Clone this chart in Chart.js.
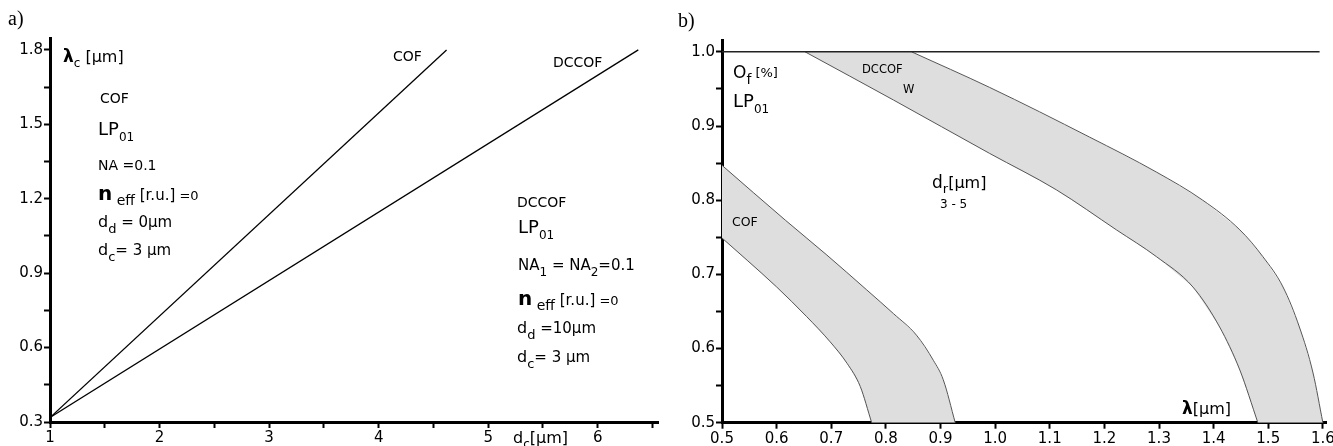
<!DOCTYPE html>
<html>
<head>
<meta charset="utf-8">
<script src="https://cdn.jsdelivr.net/npm/chart.js@4/dist/chart.umd.min.js"></script>
<style>
  html, body { margin: 0; padding: 0; background: #fff; overflow: hidden; width: 1333px; height: 446px; }
  #chartA { position: absolute; left: 0; top: 0; }
  #chartB { position: absolute; left: 665px; top: 0; }
</style>
</head>
<body>
<canvas id="chartA" width="665" height="446"></canvas>
<canvas id="chartB" width="700" height="446"></canvas>
<script>
// a) cut-off wavelength vs core diameter
const dcCof = [1, 4.62];
const lamCof = [0.318, 1.8];
const dcDccof = [1, 6.37];
const lamDccof = [0.318, 1.8];
const xTicksA = [1, 1.5, 2, 2.5, 3, 3.5, 4, 4.5, 5, 5.5, 6, 6.5];
const yTicksA = [0.3, 0.45, 0.6, 0.75, 0.9, 1.05, 1.2, 1.35, 1.5, 1.65, 1.8];

// b) overlap factor vs wavelength, bands for d_r = 3..5 um
const cofUpX = [0.5, 0.616, 0.692, 0.765, 0.814, 0.856, 0.887, 0.905, 0.927];
const cofUpY = [0.847, 0.773, 0.726, 0.679, 0.647, 0.618, 0.584, 0.558, 0.5];
const cofLoX = [0.5, 0.546, 0.6, 0.655, 0.698, 0.729, 0.753, 0.774];
const cofLoY = [0.749, 0.719, 0.683, 0.643, 0.609, 0.580, 0.549, 0.5];
const dcUpX = [0.847, 0.990, 1.173, 1.295, 1.380, 1.448, 1.490, 1.527, 1.557, 1.582, 1.600];
const dcUpY = [1.0, 0.952, 0.885, 0.838, 0.800, 0.760, 0.724, 0.683, 0.629, 0.567, 0.5];
const dcLoX = [0.652, 0.814, 0.990, 1.112, 1.222, 1.295, 1.362, 1.411, 1.448, 1.481];
const dcLoY = [1.0, 0.935, 0.863, 0.814, 0.760, 0.724, 0.683, 0.629, 0.571, 0.5];
const limitX = [0.5, 1.594];
const limitY = [1.0, 1.0];
const xTicksB = [0.5, 0.6, 0.7, 0.8, 0.9, 1.0, 1.1, 1.2, 1.3, 1.4, 1.5, 1.6];
const yTicksB = [0.5, 0.55, 0.6, 0.65, 0.7, 0.75, 0.8, 0.85, 0.9, 0.95, 1.0];

const FONT = '"DejaVu Sans"';
const pts = (xs, ys) => xs.map((x, i) => ({ x, y: ys[i] }));
const band = (upX, upY, loX, loY) => pts(upX, upY).concat(pts(loX, loY).reverse());

function rich(ctx, x, y, parts) {
  let cx = x;
  parts.forEach(([t, size, dy = 0, bold = false, fam = FONT]) => {
    ctx.font = `${bold ? 'bold ' : ''}${size}px ${fam}`;
    ctx.fillText(t, cx, y + dy);
    cx += ctx.measureText(t).width;
  });
}

const notes = {
  id: 'notes',
  afterDraw(chart, args, opts) {
    const ctx = chart.ctx;
    ctx.save();
    ctx.fillStyle = '#000';
    ctx.textBaseline = 'alphabetic';
    ctx.textAlign = 'left';
    opts.items.forEach(([x, y, parts]) => rich(ctx, x - opts.offset, y, parts));
    ctx.restore();
  }
};

const serif = '"Liberation Serif"';
const notesA = [
  [8, 25, [['a)', 20, 0, false, serif]]],
  [63, 62, [['λ', 17, 0, true], ['c', 12, 5], [' [µm]', 16]]],
  [100, 103, [['COF', 14]]],
  [98, 135, [['LP', 18], ['01', 12, 6]]],
  [98, 170, [['NA =0.1', 14]]],
  [98, 200, [['n', 20, 0, true], [' eff', 14, 5], [' [r.u.]', 15], [' =0', 13]]],
  [98, 227, [['d', 16], ['d', 13, 6], [' = 0µm', 15]]],
  [98, 255, [['d', 16], ['c', 13, 6], ['= 3 µm', 15]]],
  [393, 61, [['COF', 14]]],
  [553, 67, [['DCCOF', 14]]],
  [517, 207, [['DCCOF', 14]]],
  [518, 233, [['LP', 18], ['01', 12, 6]]],
  [518, 270, [['NA', 15], ['1', 12, 6], [' = NA', 15], ['2', 12, 6], ['=0.1', 15]]],
  [518, 305, [['n', 20, 0, true], [' eff', 14, 5], [' [r.u.]', 15], [' =0', 13]]],
  [517, 333, [['d', 16], ['d', 13, 6], [' =10µm', 15]]],
  [517, 362, [['d', 16], ['c', 13, 6], ['= 3 µm', 15]]],
  [513, 443, [['d', 16], ['c', 12, 5], ['[µm]', 16]]]
];
const notesB = [
  [678, 27, [['b)', 20, 0, false, serif]]],
  [733, 78, [['O', 17], ['f', 14, 6], [' [%]', 13, -1]]],
  [733, 107, [['LP', 18], ['01', 12, 6]]],
  [862, 73, [['DCCOF', 11.5]]],
  [903, 93, [['W', 11.5]]],
  [732, 226, [['COF', 12.5]]],
  [932, 188, [['d', 17], ['r', 13, 5], ['[µm]', 16]]],
  [940, 208, [['3 - 5', 12]]],
  [1182, 414, [['λ', 17, 0, true], ['[µm]', 16]]]
];

function axis(min, max, ticks, label, fit) {
  return {
    type: 'linear', min, max, z: 1,
    afterBuildTicks: s => { s.ticks = ticks.map(v => ({ value: v })); },
    afterFit: fit,
    ticks: { callback: label, color: '#000', font: { family: 'DejaVu Sans', size: 15 }, padding: 1, maxRotation: 0, autoSkip: false },
    grid: { drawOnChartArea: false, drawTicks: true, tickLength: 6, tickWidth: 2, color: '#000' },
    border: { display: true, color: '#000', width: 3 }
  };
}

const edge = (xs, ys) => ({
  data: pts(xs, ys), borderColor: '#555', borderWidth: 1, fill: false, cubicInterpolationMode: 'monotone'
});
const fillBand = data => ({ data, borderWidth: 0, borderColor: 'rgba(0,0,0,0)', backgroundColor: '#dedede', fill: 'shape' });

const base = {
  responsive: false, animation: false, events: [],
  elements: { point: { radius: 0 } }
};

new Chart(document.getElementById('chartA'), {
  type: 'line',
  data: {
    datasets: [
      { data: pts(dcCof, lamCof), borderColor: '#000', borderWidth: 1.3, fill: false },
      { data: pts(dcDccof, lamDccof), borderColor: '#000', borderWidth: 1.3, fill: false }
    ]
  },
  options: {
    ...base,
    layout: { padding: { top: 38, right: 7, left: 0, bottom: 0 } },
    scales: {
      x: axis(1, 6.55, xTicksA, v => Number.isInteger(v) ? v : '', s => { s.height = 24; }),
      y: axis(0.3, 1.848, yTicksA, v => Math.round(v * 100) % 30 === 0 ? v.toFixed(1) : '', s => { s.width = 50; })
    },
    plugins: { legend: { display: false }, tooltip: { enabled: false }, notes: { items: notesA, offset: 0 } }
  },
  plugins: [notes]
});

new Chart(document.getElementById('chartB'), {
  type: 'line',
  data: {
    datasets: [
      { data: pts(limitX, limitY), borderColor: '#222', borderWidth: 1.5, fill: false },
      edge(cofUpX, cofUpY),
      edge(cofLoX, cofLoY),
      edge(dcUpX, dcUpY),
      edge(dcLoX, dcLoY),
      fillBand(band(cofUpX, cofUpY, cofLoX, cofLoY)),
      fillBand(band(dcUpX, dcUpY, dcLoX, dcLoY))
    ]
  },
  options: {
    ...base,
    layout: { padding: { top: 40.7, right: 38.3, left: 0, bottom: 0 } },
    scales: {
      x: axis(0.5, 1.607, xTicksB, v => v.toFixed(1), s => { s.height = 23.3; }),
      y: axis(0.5, 1.015, yTicksB, v => Math.round(v * 100) % 10 === 0 ? v.toFixed(1) : '', s => { s.width = 57; })
    },
    plugins: { legend: { display: false }, tooltip: { enabled: false }, notes: { items: notesB, offset: 665 } }
  },
  plugins: [notes]
});
</script>
</body>
</html>
